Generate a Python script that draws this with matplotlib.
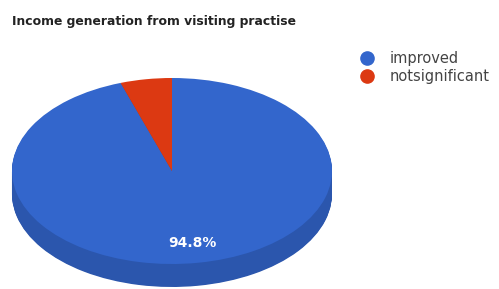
import matplotlib.pyplot as plt
from matplotlib.lines import Line2D
import numpy as np

# dados
labels = ['improved', 'notsignificant']
values = [94.8, 5.2]
colors = ['#3366cc', '#dc3912']
side_colors = ['#2b56ad', '#b5300f']

# geometria da elipse em pixeis
W, H = 499, 289
cx, cy = 172, 171
rx, ry = 160, 93
depth = 23

fig = plt.figure(figsize=(W / 100, H / 100), dpi=100)
ax = fig.add_axes([0, 0, 1, 1])

# lado do "3D": varias camadas escuras
for k in np.linspace(depth / ry, 0.01, 30):
    ax.pie(values, colors=side_colors, startangle=90, counterclock=False,
           center=(0, -k), radius=1, wedgeprops=dict(linewidth=0))

def pct(p):
    return f'{p:.1f}%' if p > 10 else ''

wedges, texts, autotexts = ax.pie(values, colors=colors, startangle=90, counterclock=False,
                                  center=(0, 0), radius=1, autopct=pct, pctdistance=0.78,
                                  wedgeprops=dict(linewidth=0),
                                  textprops=dict(color='white', fontsize=10, fontweight='bold',
                                                 family='DejaVu Sans'))

ax.set_aspect('auto')
ax.set_xlim(-cx / rx, (W - cx) / rx)
ax.set_ylim((cy - H) / ry, cy / ry)
ax.axis('off')

fig.text(12 / W, 1 - 22 / H, 'Income generation from visiting practise',
         fontsize=8.9, fontweight='bold', family='DejaVu Sans', color='#222222',
         va='center', ha='left')

handles = [Line2D([], [], marker='o', linestyle='none', markersize=9.5,
                  markerfacecolor=c, markeredgecolor=c) for c in colors]
fig.legend(handles, labels, loc='upper left', bbox_to_anchor=(352 / W, 1 - 45 / H),
           frameon=False, handletextpad=0.95, labelspacing=0.2,
           borderaxespad=0, handlelength=1.2, prop=dict(family='DejaVu Sans', size=10.5))
for t in fig.legends[0].get_texts():
    t.set_color('#444444')

fig.savefig('out.png', dpi=100)
